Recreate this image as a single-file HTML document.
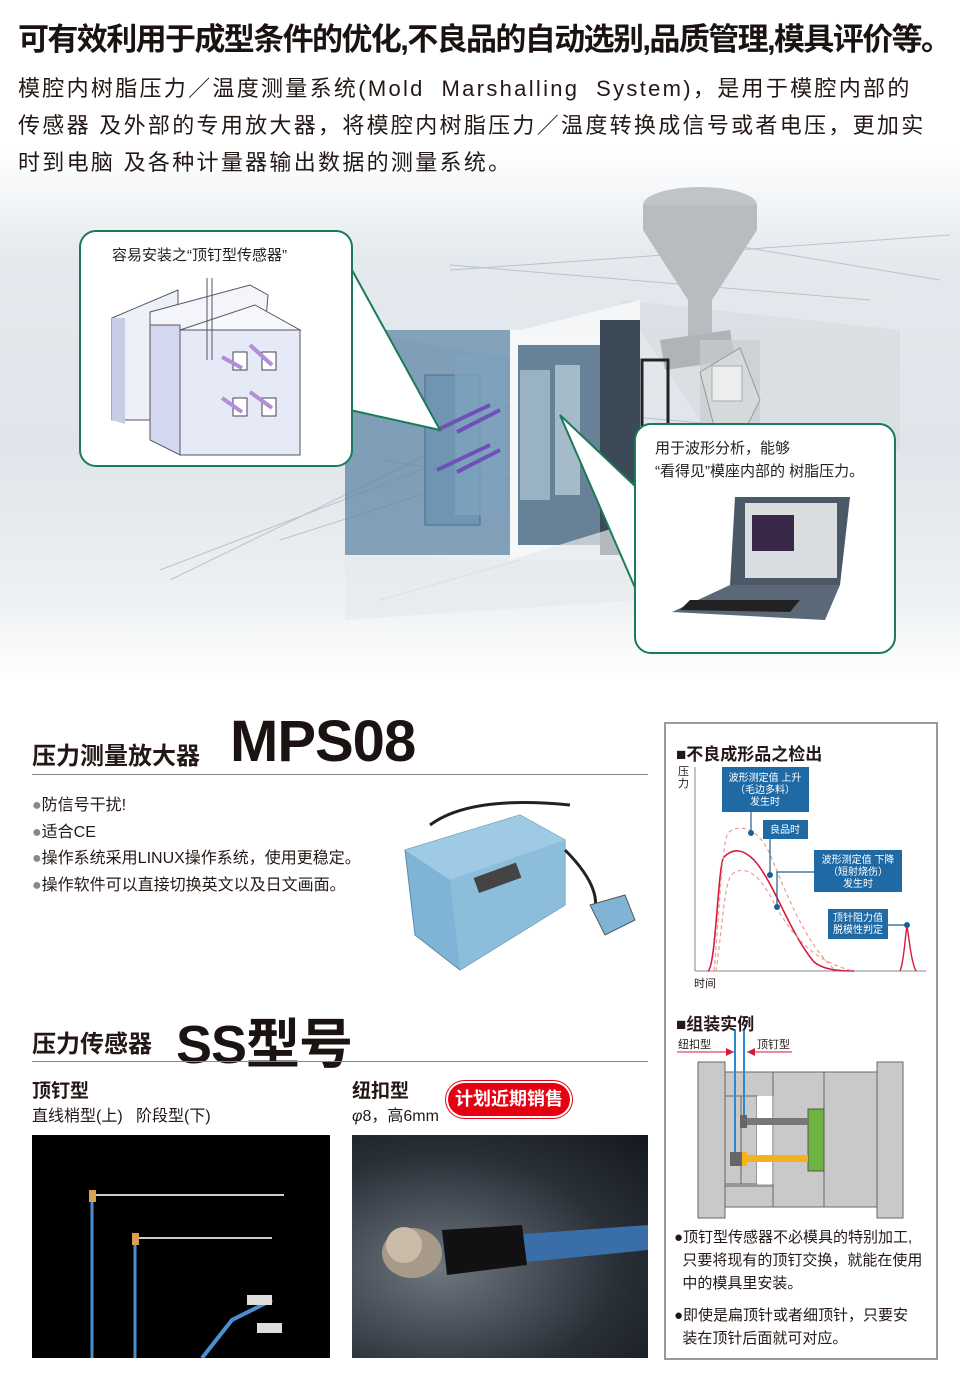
<!DOCTYPE html>
<html><head><meta charset="utf-8">
<style>
*{margin:0;padding:0;box-sizing:border-box}
body{width:960px;height:1400px;position:relative;overflow:hidden;background:#fff;font-family:"Liberation Sans","Noto Sans CJK SC",sans-serif;color:#231815}
.a{position:absolute;white-space:nowrap}
.bg{position:absolute;left:0;top:0;width:960px;height:690px;background:linear-gradient(180deg,#fff 0px,#fff 150px,#e4e9ee 260px,#dfe5ea 450px,#eef1f3 600px,#fff 680px)}
</style></head><body>
<div class="bg"></div>
<div class="a" style="left:18px;top:14px;font-size:31px;font-weight:bold;letter-spacing:-1.6px;color:#1a1311">可有效利用于成型条件的优化,不良品的自动选别,品质管理,模具评价等。</div>
<div class="a" style="left:18px;top:70px;font-size:22px;line-height:37px;letter-spacing:2.3px;color:#231815">模腔内树脂压力／温度测量系统(Mold&nbsp; Marshalling&nbsp; System)，是用于模腔内部的<br>传感器 及外部的专用放大器，将模腔内树脂压力／温度转换成信号或者电压，更加实<br>时到电脑 及各种计量器输出数据的测量系统。</div>

<svg class="a" style="left:0;top:180px" width="960" height="500" viewBox="0 180 960 500">
<g stroke="#a9b2bb" stroke-width="1" fill="none" opacity=".7">
<line x1="450" y1="270" x2="950" y2="235"/><line x1="450" y1="265" x2="870" y2="300"/><line x1="700" y1="240" x2="940" y2="280"/>
<line x1="170" y1="580" x2="520" y2="410"/><line x1="280" y1="540" x2="530" y2="460"/><line x1="320" y1="390" x2="900" y2="440"/>
<line x1="380" y1="460" x2="720" y2="510"/><line x1="380" y1="600" x2="520" y2="560"/><line x1="160" y1="570" x2="500" y2="440"/>
</g>
<path d="M620 300 L900 330 L900 450 L700 420 Z" fill="#d8dde2" opacity=".8"/>
<ellipse cx="700" cy="205" rx="57" ry="18" fill="#c0c4c8"/>
<path d="M643 205 L643 230 L688 300 L688 340 L712 340 L712 300 L757 230 L757 205 Z" fill="#b8bcc0"/>
<path d="M660 340 L730 330 L735 360 L665 370 Z" fill="#b0b4b8"/>
<rect x="700" y="340" width="60" height="90" fill="#c8ccd0" opacity=".7"/>
<path d="M700 372 L740 348 L760 400 L745 430 L715 430 Z" fill="#d6d9dc" stroke="#999"/>
<rect x="712" y="366" width="30" height="35" fill="#eceeee" stroke="#aaa"/>
<path d="M345 330 L520 330 L640 300 L640 330 L520 360 Z" fill="#f3f5f6"/>
<rect x="345" y="330" width="165" height="225" fill="#5f86a5" opacity=".75"/>
<rect x="510" y="330" width="130" height="230" fill="#f6f7f8"/>
<rect x="518" y="345" width="115" height="200" fill="#4d6c86" opacity=".85"/>
<rect x="600" y="320" width="40" height="235" fill="#3b4a56"/>
<rect x="642" y="360" width="26" height="110" fill="none" stroke="#222" stroke-width="3"/>
<rect x="425" y="375" width="55" height="150" fill="#6f95b3" stroke="#4c6c86"/>
<rect x="455" y="355" width="50" height="160" fill="#7ea2bd" opacity=".8"/>
<rect x="520" y="370" width="30" height="130" fill="#a7bfcf" opacity=".8"/>
<rect x="555" y="365" width="25" height="130" fill="#b5c9d6" opacity=".8"/>
<g stroke="#6f4fb8" stroke-width="4"><line x1="437" y1="430" x2="490" y2="405"/><line x1="457" y1="432" x2="500" y2="410"/><line x1="437" y1="470" x2="490" y2="445"/><line x1="457" y1="472" x2="500" y2="450"/></g>
<path d="M345 555 L510 560 L640 520 L640 600 L345 620 Z" fill="#e6eaed" opacity=".7"/>
<path d="M352 270 L440 430 L350 410" fill="#fff" stroke="#1a7a5a" stroke-width="2"/>
<path d="M560 415 L636 590 L636 487 Z" fill="#fff" stroke="#1a7a5a" stroke-width="2"/>
<rect x="80" y="231" width="272" height="235" rx="16" fill="#fff" stroke="#1a7a5a" stroke-width="2"/>
<text x="112" y="260" font-size="15" fill="#222" font-family="Liberation Sans,Noto Sans CJK SC,sans-serif">容易安装之“顶钉型传感器”</text>
<path d="M112 318 L178 290 L178 420 L112 420 Z" fill="#eef0f8" stroke="#556"/>
<path d="M112 318 L125 318 L125 424 L112 420Z" fill="#c8cde6"/>
<path d="M150 312 L250 285 L268 295 L265 330 L150 330Z" fill="#f4f5fb" stroke="#556"/>
<path d="M150 325 L180 325 L180 455 L150 440Z" fill="#d4d8ee" stroke="#556"/>
<rect x="180" y="330" width="120" height="125" fill="#e6e9f6" stroke="#556"/>
<path d="M180 330 L255 305 L300 330Z" fill="#f7f8fc" stroke="#556"/>
<g fill="#fff" stroke="#445"><rect x="233" y="352" width="14" height="18"/><rect x="262" y="352" width="14" height="18"/><rect x="233" y="398" width="14" height="18"/><rect x="262" y="398" width="14" height="18"/></g>
<g stroke="#b08fd8" stroke-width="4"><line x1="222" y1="357" x2="242" y2="368"/><line x1="250" y1="345" x2="272" y2="365"/><line x1="222" y1="398" x2="242" y2="412"/><line x1="250" y1="392" x2="272" y2="408"/></g>
<line x1="207" y1="278" x2="207" y2="360" stroke="#556"/><line x1="212" y1="278" x2="212" y2="360" stroke="#556"/>
<rect x="635" y="424" width="260" height="229" rx="16" fill="#fff" stroke="#1a7a5a" stroke-width="2"/>
<text x="655" y="453" font-size="15" fill="#222" font-family="Liberation Sans,Noto Sans CJK SC,sans-serif">用于波形分析，能够</text>
<text x="655" y="476" font-size="15" fill="#222" font-family="Liberation Sans,Noto Sans CJK SC,sans-serif">“看得见”模座内部的 树脂压力。</text>
<path d="M735 497 L850 497 L840 585 L730 585Z" fill="#4a5868"/>
<rect x="745" y="503" width="92" height="75" fill="#d9dde0"/>
<rect x="752" y="515" width="42" height="36" fill="#3a2848"/>
<path d="M730 585 L840 585 L825 620 L672 612Z" fill="#5a6878"/>
<path d="M690 600 L800 600 L790 612 L680 610Z" fill="#222"/>
</svg>

<div class="a" style="left:32px;top:736px;font-size:24px;font-weight:bold">压力测量放大器</div>
<div class="a" style="left:230px;top:708px;font-size:58px;font-weight:bold;letter-spacing:-1px;color:#1a1311">MPS08</div>
<div class="a" style="left:32px;top:774px;width:616px;height:1px;background:#888"></div>
<div class="a" style="left:32px;top:793px;font-size:16px;line-height:26.5px;color:#231815"><span style="color:#888">●</span>防信号干扰!<br><span style="color:#888">●</span>适合CE<br><span style="color:#888">●</span>操作系统采用LINUX操作系统，使用更稳定。<br><span style="color:#888">●</span>操作软件可以直接切换英文以及日文画面。</div>
<svg class="a" style="left:400px;top:795px" width="250" height="185">
<path d="M30 30 Q70 0 170 10" stroke="#222" stroke-width="3" fill="none"/>
<path d="M5 55 L120 20 L165 45 L165 110 L60 175 L15 140Z" fill="#7fb4d6" stroke="#5b8aa8"/>
<path d="M5 55 L120 20 L165 45 L50 85Z" fill="#9ecae6"/>
<path d="M50 85 L165 45 L165 110 L60 175Z" fill="#8cbedc"/>
<rect x="75" y="75" width="45" height="16" fill="#444" transform="rotate(-20 97 83)"/>
<path d="M165 55 Q200 90 195 115" stroke="#222" stroke-width="3" fill="none"/>
<path d="M190 110 L225 100 L235 125 L205 140Z" fill="#7fb4d6" stroke="#555"/>
</svg>

<div class="a" style="left:32px;top:1024px;font-size:24px;font-weight:bold">压力传感器</div>
<div class="a" style="left:176px;top:1000px;font-size:54px;font-weight:bold;letter-spacing:-1px;color:#1a1311">SS型号</div>
<div class="a" style="left:32px;top:1061px;width:616px;height:1px;background:#888"></div>
<div class="a" style="left:32px;top:1076px;font-size:19px;font-weight:bold">顶钉型</div>
<div class="a" style="left:32px;top:1102px;font-size:16px">直线梢型(上)&nbsp;&nbsp; 阶段型(下)</div>
<div class="a" style="left:352px;top:1076px;font-size:19px;font-weight:bold">纽扣型</div>
<div class="a" style="left:352px;top:1102px;font-size:16px"><i>φ</i>8，高6mm</div>
<div class="a" style="left:448px;top:1083px;width:122px;height:33px;border-radius:17px;background:#e60012;color:#fff;font-size:18px;font-weight:bold;text-align:center;line-height:33px;box-shadow:0 0 0 2px #fff,0 0 0 3px #e60012">计划近期销售</div>
<div class="a" style="left:32px;top:1135px;width:298px;height:223px;background:#000"></div>
<svg class="a" style="left:32px;top:1135px" width="298" height="223">
<line x1="60" y1="360" x2="60" y2="62" stroke="#4a90d0" stroke-width="3"/>
<line x1="60" y1="60" x2="252" y2="60" stroke="#ccc" stroke-width="2"/>
<rect x="57" y="55" width="7" height="12" fill="#d9a050"/>
<line x1="103" y1="223" x2="103" y2="104" stroke="#4a90d0" stroke-width="3"/>
<line x1="103" y1="103" x2="240" y2="103" stroke="#ccc" stroke-width="2"/>
<rect x="100" y="98" width="7" height="12" fill="#d9a050"/>
<path d="M170 223 L200 185 L240 165" stroke="#4a90d0" stroke-width="4" fill="none"/>
<rect x="215" y="160" width="25" height="10" fill="#ddd"/><rect x="225" y="188" width="25" height="10" fill="#ddd"/>
</svg>
<div class="a" style="left:352px;top:1135px;width:296px;height:223px;background:radial-gradient(ellipse at 30% 60%,#6e7680,#2a3038 60%,#14181d)"></div>
<svg class="a" style="left:352px;top:1135px" width="296" height="223">
<path d="M90 105 L296 90 L296 115 L95 135Z" fill="#3a6ea8"/>
<path d="M90 95 L170 90 L175 130 L95 140Z" fill="#111"/>
<ellipse cx="60" cy="118" rx="30" ry="25" fill="#a89a88"/>
<ellipse cx="52" cy="110" rx="18" ry="18" fill="#c9bba8"/>
</svg>

<div class="a" style="left:664px;top:722px;width:274px;height:638px;border:2px solid #9a9a9a;background:#fff"></div>
<div class="a" style="left:676px;top:740px;font-size:17px;font-weight:bold">■不良成形品之检出</div>
<div class="a" style="left:678px;top:766px;font-size:11px;line-height:12px">压<br>力</div>
<div class="a" style="left:694px;top:975px;font-size:11px">时间</div>
<svg class="a" style="left:664px;top:722px" width="274" height="300">
<line x1="31" y1="45" x2="31" y2="249" stroke="#888"/><line x1="31" y1="249" x2="262" y2="249" stroke="#888"/>
<path d="M44 249 C52 245 54 140 60 135 C70 125 80 128 90 138 C110 160 125 210 150 240 C160 248 175 249 190 249" stroke="#d61a3c" stroke-width="1.6" fill="none"/>
<path d="M50 249 C55 200 58 112 65 110 C80 100 95 110 105 130 C120 165 140 220 170 247" stroke="#e8a090" stroke-width="1.2" stroke-dasharray="4,3" fill="none"/>
<path d="M52 249 C58 210 60 160 68 152 C85 140 100 160 112 185 C130 215 150 240 190 249" stroke="#e8a090" stroke-width="1.2" stroke-dasharray="4,3" fill="none"/>
<path d="M236 249 C240 240 241 215 243 204 C245 215 247 240 252 249" stroke="#d61a3c" stroke-width="1.4" fill="none"/>
<g fill="#1f5f95"><circle cx="87" cy="111" r="3"/><circle cx="106" cy="153" r="3"/><circle cx="113" cy="185" r="3"/><circle cx="243" cy="203" r="3"/></g>
<g stroke="#1f5f95" stroke-width="1.2" fill="none"><line x1="87" y1="90" x2="87" y2="111"/><line x1="106" y1="117" x2="106" y2="153"/><path d="M113 185 L113 150 L150 150"/><line x1="224" y1="203" x2="243" y2="203"/></g>
<g fill="#1f6aa5"><rect x="58" y="45" width="87" height="45"/><rect x="99" y="98" width="45" height="19"/><rect x="150" y="128" width="88" height="42"/><rect x="164" y="187" width="60" height="30"/></g>
<g fill="#fff" font-size="10" text-anchor="middle" font-family="Liberation Sans,Noto Sans CJK SC,sans-serif">
<text x="101" y="59">波形测定值 上升</text><text x="101" y="71">（毛边多料）</text><text x="101" y="83">发生时</text>
<text x="121" y="111">良品时</text>
<text x="194" y="141">波形测定值 下降</text><text x="194" y="153">（短射烧伤）</text><text x="194" y="165">发生时</text>
<text x="194" y="199">顶针阻力值</text><text x="194" y="211">脱模性判定</text></g>
</svg>
<div class="a" style="left:676px;top:1010px;font-size:17px;font-weight:bold">■组装实例</div>
<div class="a" style="left:678px;top:1036px;font-size:11px">纽扣型</div>
<div class="a" style="left:757px;top:1036px;font-size:11px">顶钉型</div>
<svg class="a" style="left:664px;top:1030px" width="274" height="200">
<line x1="13" y1="22" x2="70" y2="22" stroke="#d61a3c"/><path d="M70 22 L62 18 L62 26Z" fill="#d61a3c"/>
<line x1="83" y1="22" x2="128" y2="22" stroke="#d61a3c"/><path d="M83 22 L91 18 L91 26Z" fill="#d61a3c"/>
<g fill="#c9c9c9" stroke="#666" stroke-width="1">
<rect x="34" y="32" width="27" height="156"/><rect x="213" y="32" width="26" height="156"/>
<rect x="61" y="42" width="152" height="135"/>
<rect x="61" y="66" width="32" height="88"/>
</g>
<rect x="93" y="66" width="17" height="88" fill="#fff"/>
<g stroke="#666" fill="none"><line x1="109" y1="42" x2="109" y2="177"/><line x1="160" y1="42" x2="160" y2="177"/><line x1="61" y1="156" x2="109" y2="156"/><line x1="77" y1="66" x2="77" y2="154"/></g>
<rect x="144" y="79" width="16" height="62" fill="#6cb33f" stroke="#555"/>
<rect x="82" y="88" width="62" height="7" fill="#777"/>
<rect x="82" y="125" width="62" height="7" fill="#f5b21a"/>
<rect x="76" y="85" width="7" height="13" fill="#666"/>
<rect x="66" y="122" width="12" height="14" fill="#666"/><rect x="78" y="122" width="5" height="14" fill="#f5b21a"/>
<line x1="71" y1="0" x2="71" y2="122" stroke="#2a8ad0" stroke-width="2"/>
<line x1="80" y1="0" x2="80" y2="85" stroke="#2a8ad0" stroke-width="2"/>
</svg>
<div class="a" style="left:674px;top:1226px;font-size:15px;line-height:23px">●顶钉型传感器不必模具的特别加工,<br>&nbsp;&nbsp;只要将现有的顶钉交换，就能在使用<br>&nbsp;&nbsp;中的模具里安装。</div>
<div class="a" style="left:674px;top:1304px;font-size:15px;line-height:23px">●即使是扁顶针或者细顶针，只要安<br>&nbsp;&nbsp;装在顶针后面就可对应。</div>
</body></html>
